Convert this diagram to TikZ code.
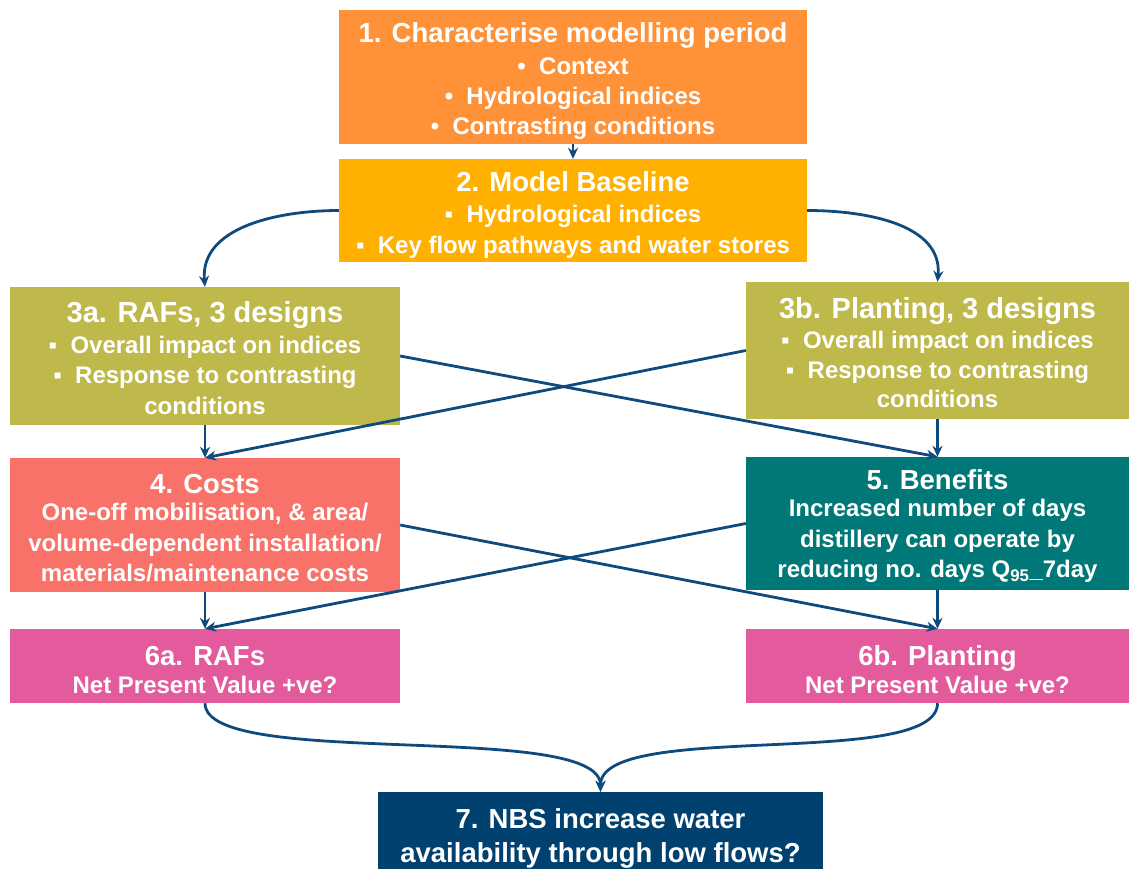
\documentclass[tikz,border=0pt]{standalone}
\usepackage{fontspec}
\setmainfont{Liberation Sans}
\usetikzlibrary{arrows.meta}
\definecolor{cone}{HTML}{FF9138}
\definecolor{ctwo}{HTML}{FFB000}
\definecolor{colive}{HTML}{BFB84B}
\definecolor{csalmon}{HTML}{F9726A}
\definecolor{cteal}{HTML}{007877}
\definecolor{cpink}{HTML}{E35A9D}
\definecolor{cnavy}{HTML}{00416F}
\definecolor{linec}{HTML}{0F4A7E}
\newcommand\boxtitle{\fontsize{27.5}{32}\selectfont}
\newcommand\boxtitlebig{\fontsize{29}{34}\selectfont}
\newcommand\topstrut[1]{\rule{0pt}{#1}}
\begin{document}
\begin{tikzpicture}[x=1pt,y=-1pt,
  box/.style={rectangle, inner sep=0pt, text=white, align=center,
    font=\bfseries\fontsize{24}{30.5}\selectfont},
  conn/.style={draw=linec, line width=2.8pt, -{Stealth[length=11pt,width=10pt]}},
]
\useasboundingbox (0,0) rectangle (1129,868);

\node[box, fill=cone, minimum width=468pt, minimum height=134pt] (b1) at (573,77)
  {\topstrut{28pt}{\boxtitle 1. Characterise modelling period}\\[1pt]
   •\ \ Context\\
   •\ \ Hydrological indices\\[-1pt]
   •\ \ Contrasting conditions};

\node[box, fill=ctwo, minimum width=468pt, minimum height=103pt] (b2) at (573,210.5)
  {\topstrut{28pt}{\boxtitle 2. Model Baseline}\\[1pt]
   ▪\ \ Hydrological indices\\
   ▪\ \ Key flow pathways and water stores};

\node[box, fill=colive, minimum width=390pt, minimum height=138pt] (b3a) at (205,356)
  {\topstrut{25pt}{\boxtitlebig 3a. RAFs, 3 designs}\\[0pt]
   ▪\ \ Overall impact on indices\\
   ▪\ \ Response to contrasting\\
   conditions};

\node[box, fill=colive, minimum width=383pt, minimum height=137pt] (b3b) at (937.5,350.5)
  {\topstrut{25pt}{\boxtitlebig 3b. Planting, 3 designs}\\[0pt]
   ▪\ \ Overall impact on indices\\[-1pt]
   ▪\ \ Response to contrasting\\[-1pt]
   conditions};

\node[box, fill=csalmon, minimum width=390pt, minimum height=134pt] (b4) at (205,525)
  {\topstrut{25pt}{\boxtitle 4. Costs}\\[-3pt]
   One-off mobilisation, \& area/\\
   volume-dependent installation/\\
   materials/maintenance costs};

\node[box, fill=cteal, minimum width=383pt, minimum height=133pt] (b5) at (937.5,523.5)
  {\topstrut{25pt}{\boxtitle 5. Benefits}\\[-3pt]
   Increased number of days\\
   distillery can operate by\\
   reducing no. days Q\textsubscript{95}\_7day};

\node[box, fill=cpink, minimum width=390pt, minimum height=74pt] (b6a) at (205,666)
  {\topstrut{27pt}{\boxtitle 6a. RAFs}\\[-3pt]
   Net Present Value +ve?};

\node[box, fill=cpink, minimum width=383pt, minimum height=74pt] (b6b) at (937.5,666)
  {\topstrut{27pt}{\boxtitle 6b. Planting}\\[-3pt]
   Net Present Value +ve?};

\node[box, fill=cnavy, minimum width=445pt, minimum height=86pt,
      font=\bfseries\fontsize{27.5}{34}\selectfont] (b7) at (600.5,835)
  {\topstrut{26pt}7. NBS increase water\\
   availability through low flows?};

% connectors
\draw[conn] (b1.south) -- (b2.north);
\draw[conn] (b2.west) to[out=180,in=95] (b3a.north);
\draw[conn] (b2.east) to[out=0,in=85] (b3b.north);
\draw[conn] (b3a.south) -- (b4.north);
\draw[conn] (b3b.south) -- (b5.north);
\draw[conn] (b3a.east) -- (b5.north);
\draw[conn] (b3b.west) -- (b4.north);
\draw[conn] (b4.south) -- (b6a.north);
\draw[conn] (b5.south) -- (b6b.north);
\draw[conn] (b4.east) -- (b6b.north);
\draw[conn] (b5.west) -- (b6a.north);
\draw[conn] (b6a.south) .. controls +(0,67) and +(0,-72) .. (b7.north);
\draw[conn] (b6b.south) .. controls +(0,67) and +(0,-72) .. (b7.north);
\end{tikzpicture}
\end{document}
